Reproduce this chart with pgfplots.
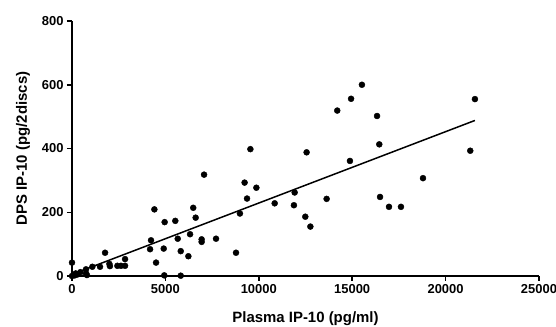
\documentclass[border=0pt]{standalone}
\usepackage{pgfplots}
\pgfplotsset{compat=1.18}
\usepackage{fontspec}
\setmainfont{Liberation Sans}
\begin{document}
\begin{tikzpicture}
\begin{axis}[
  scale only axis,
  width=467bp, height=255bp,
  xmin=0, xmax=25000, ymin=0, ymax=800,
  axis x line=bottom, axis y line=left,
  axis line style={-, line width=1.6bp},
  clip=false,
  scaled ticks=false,
  xtick={0,5000,10000,15000,20000,25000},
  ytick={0,200,400,600,800},
  minor tick num=0,
  tick align=outside,
  tickwidth=5bp,
  tick style={draw=black, line width=1.5bp},
  /pgf/number format/assume math mode=true,
  /pgf/number format/1000 sep={},
  tick label style={font=\fontsize{13}{15}\selectfont\bfseries},
  label style={font=\fontsize{15}{17}\selectfont\bfseries},
  xlabel={Plasma IP-10 (pg/ml)},
  ylabel={DPS IP-10 (pg/2discs)},
  xlabel style={at={(axis description cs:0.5,-0.184)}, anchor=base},
  ylabel style={at={(axis description cs:-0.0964,0.5)}, anchor=base},
]
\addplot[only marks, mark=*, mark size=3bp, black] coordinates {
(0,42) (0,0) (150,2) (300,5) (450,12) (200,8) (750,21) (750,8) (800,3)
(1090,29) (1500,29) (1770,73) (2000,38) (2030,31) (2430,32) (2620,32)
(2840,32) (2840,53) (4180,84) (4230,112) (4410,209) (4500,42) (4910,86)
(4940,2) (4960,169) (5530,173) (5660,117) (5820,78) (5820,1) (6230,62)
(6320,131) (6490,214) (6620,183) (6940,115) (6940,107) (7070,318)
(7710,117) (8780,73) (8990,196) (9240,293) (9370,243) (9550,398)
(9870,277) (10850,228) (11880,222) (11920,262) (12490,186) (12560,388)
(12760,155) (13630,242) (14200,519) (14880,361) (14940,556) (15520,600)
(16330,502) (16450,413) (16490,248) (16970,217) (17610,217) (18790,307)
(21320,393) (21570,555)
};
\addplot[black, line width=1.5bp] coordinates {(0,5) (21570,488)};
\end{axis}
\pgfresetboundingbox
\useasboundingbox (-72bp,-51bp) rectangle (484bp,276bp);
\end{tikzpicture}
\end{document}
